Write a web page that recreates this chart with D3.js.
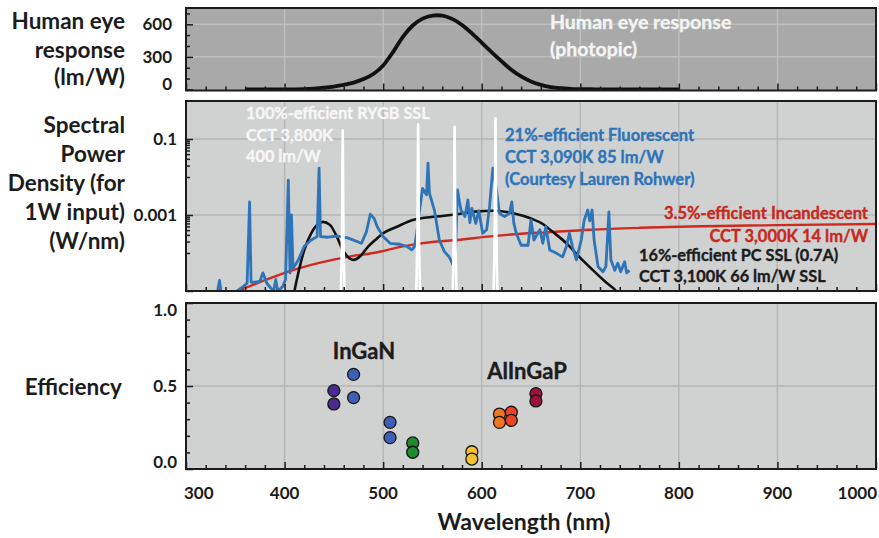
<!DOCTYPE html>
<html>
<head>
<meta charset="utf-8">
<script src="https://cdn.jsdelivr.net/npm/d3@7"></script>
<style>
  body { margin: 0; background: #ffffff; }
  svg { display: block; }
  text { font-family: Lato, "Open Sans", sans-serif; }
</style>
</head>
<body>
<svg id="chart" width="879" height="538"></svg>
<script>
// ---------- data ----------
// Photopic luminous efficacy (683 lm/W x V(lambda))
const eyeNm = [360,370,380,390,400,410,420,430,440,450,460,470,480,490,500,510,520,530,540,550,555,560,570,580,590,600,610,620,630,640,650,660,670,680,690,700,710,720,730,740,750,760,770,780,790,800];
const eyeLmW = [0.003,0.008,0.027,0.082,0.27,0.83,2.73,7.92,15.7,26.0,41.0,62.1,95.0,142,221,344,485,589,652,680,683,680,650,594,517,431,344,260,181,120,73.1,41.7,21.9,11.6,5.61,2.80,1.43,0.715,0.355,0.170,0.082,0.041,0.020,0.010,0.005,0.0025];

// Ideal RYGB solid-state source: four narrow lines (W/nm at line centre)
const rygbNm = [459, 535.5, 572.5, 614];
const rygbPeak = [0.17, 0.24, 0.21, 0.35];

// Phosphor-converted white LED spectrum (W/nm)
const pcNm = [407,410,420,427,434,439,446,453,459,466,470,476,485,492,500,514,530,554,575,593,613,633,650,662,672,686,699,713,726,737,742];
const pcSpd = [4e-6,1.0e-5,1.2e-4,3.3e-4,5.8e-4,6.6e-4,5.5e-4,2.7e-4,1.2e-4,7.2e-5,6.6e-5,7.9e-5,1.5e-4,2.2e-4,3.3e-4,4.9e-4,7.4e-4,9.1e-4,1.05e-3,1.23e-3,1.29e-3,1.10e-3,8.1e-4,5.8e-4,3.6e-4,1.8e-4,7.9e-5,3.5e-5,1.7e-5,9.5e-6,6e-6];

// Incandescent lamp spectrum (W/nm)
const incNm = [350,375,400,434,468,490,520,554,575,606,640,665,710,760,810,900,1000];
const incSpd = [9.5e-6,1.7e-5,3.0e-5,5.4e-5,8.3e-5,1.0e-4,1.5e-4,2.0e-4,2.2e-4,2.7e-4,3.2e-4,3.5e-4,4.1e-4,4.6e-4,5.0e-4,5.4e-4,5.8e-4];

// Fluorescent lamp spectrum (W/nm)
const fluorNm = [330,334,337,348,352,358,362,364.5,366,370,375,378,382,386,389,391,393,398,401,403.8,405.5,407,408.5,410,414,420,427,433,435,436.5,444,454,464,478,483,487,491,494,500,507,517,524,529,532,534,537,540,544,545.5,547,552,557,562,567,571,573,575.5,577,579,583,586,588,590,594,597,601,605,608,611.3,615,618,623,628,630.5,632.5,635,640,647,650,653,659,662,665,669,676,682,686,689,692,696,701,704,707.6,709.5,712,714,718,723,726,729,731,735,738,741,745,747,750];
const fluorSpd = [5e-6,1.9e-5,5e-6,8e-6,1.0e-5,1.3e-5,1.6e-5,2.2e-3,1.7e-5,1.7e-5,1.8e-5,3.0e-5,1.6e-5,1.2e-5,1.0e-5,2.0e-5,1.0e-5,1.3e-5,2.0e-5,8.3e-3,3.0e-5,1.0e-3,4.0e-5,4.5e-5,6.6e-5,1.5e-4,2.2e-4,2.7e-4,1.7e-2,2.7e-4,2.6e-4,2.8e-4,2.5e-4,1.8e-4,3.6e-4,1.05e-3,8.0e-4,4.9e-4,2.7e-4,1.8e-4,1.7e-4,1.5e-4,1.2e-4,1.5e-4,3.3e-4,1.35e-3,5.0e-3,3.4e-3,2.3e-2,3.7e-3,1.35e-3,2.2e-4,1.1e-4,7.9e-5,4.8e-5,5.4e-5,4.6e-3,2.5e-3,1.35e-3,9.1e-4,2.5e-3,6.3e-4,1.5e-3,6.0e-4,1.3e-3,3.3e-4,4.1e-4,1.7e-3,1.7e-2,4.6e-3,1.1e-3,9.1e-4,1.1e-3,2.2e-3,6.3e-4,3.3e-4,1.6e-4,1.6e-4,7.4e-4,2.2e-4,4.1e-4,1.8e-4,4.9e-4,1.2e-4,9.8e-5,7.9e-5,1.5e-4,3.3e-4,1.5e-4,6.6e-5,2.2e-4,7.4e-4,1.35e-3,7.0e-4,1.35e-3,2.2e-4,4.4e-5,3.2e-5,4.4e-5,1.2e-3,6.6e-5,3.5e-5,5.4e-5,3.2e-5,5.9e-5,3.0e-5,3.5e-5];

// LED wall-plug efficiency vs peak wavelength
const ledNm  = [450,450,470,470,507,507,530,530,590,590,618,618,630,630,655,655];
const ledEff = [0.472,0.392,0.570,0.430,0.281,0.189,0.157,0.101,0.104,0.060,0.331,0.281,0.342,0.293,0.454,0.410];
const ledColor = ["#4b2c8e","#4b2c8e","#3f5fb6","#3f5fb6","#3f5fb6","#3f5fb6","#1f8a2e","#1f8a2e","#f7c22e","#f7c22e","#f07524","#f07524","#e8452b","#e8452b","#9c1139","#9c1139"];

const xTicks = [300,400,500,600,700,800,900,1000];
const eyeTicks = [0,300,600];
const spdTicks = [1e-5,1e-3,1e-1];
const spdTickLabels = ["","0.001","0.1"];
const effTicks = [0,0.5,1];
const effTickLabels = ["0.0","0.5","1.0"];

// ---------- layout ----------
const svg = d3.select("#chart");
const X_LEFT = 186, X_RIGHT = 876;
const x = d3.scaleLinear().domain([300, 1000]).range([X_LEFT, X_RIGHT]);

const eyeP = {top: 8, bottom: 90.5, fill: "#a9a9a9", grid: "#bebebe"};
const spdP = {top: 101, bottom: 291, fill: "#d0d1d1", grid: "#b6b7b7"};
const effP = {top: 303, bottom: 469, fill: "#d0d1d1", grid: "#b6b7b7"};

const yEye = d3.scaleLinear().domain([-10, 750]).range([eyeP.bottom, eyeP.top]);
const ySpd = d3.scaleLog().domain([1e-5, 1]).range([spdP.bottom, spdP.top]);
const yEff = d3.scaleLinear().domain([0, 1]).range([effP.bottom, effP.top]);

const INK = "#1c1c1c";
const TITLE_SIZE = 22.5;

function panel(p, id, yScale, hGrid) {
  svg.append("rect").attr("x", X_LEFT).attr("y", p.top)
    .attr("width", X_RIGHT - X_LEFT).attr("height", p.bottom - p.top)
    .attr("fill", p.fill);
  const g = svg.append("g");
  g.selectAll(".vg").data(d3.range(400, 1000, 100)).join("line")
    .attr("x1", d => x(d)).attr("x2", d => x(d))
    .attr("y1", p.top).attr("y2", p.bottom)
    .attr("stroke", p.grid).attr("stroke-width", 1.5);
  g.selectAll(".hg").data(hGrid).join("line")
    .attr("x1", X_LEFT).attr("x2", X_RIGHT)
    .attr("y1", d => yScale(d)).attr("y2", d => yScale(d))
    .attr("stroke", p.grid).attr("stroke-width", 1.5);
  svg.append("clipPath").attr("id", id).append("rect")
    .attr("x", X_LEFT).attr("y", p.top)
    .attr("width", X_RIGHT - X_LEFT).attr("height", p.bottom - p.top);
  return svg.append("g").attr("clip-path", `url(#${id})`);
}

function frameAndTicks(p, yScale, yMinor, yMajor) {
  const minorX = d3.range(300, 1001, 20).filter(v => v % 100 !== 0);
  const ax1 = svg.append("g").attr("transform", `translate(0,${p.bottom})`)
    .call(d3.axisBottom(x).tickValues(minorX).tickSize(-4).tickFormat(""));
  const ax2 = svg.append("g").attr("transform", `translate(0,${p.bottom})`)
    .call(d3.axisBottom(x).tickValues(xTicks).tickSize(-7).tickFormat(""));
  const ay1 = svg.append("g").attr("transform", `translate(${X_LEFT},0)`)
    .call(d3.axisLeft(yScale).tickValues(yMinor).tickSize(-4).tickFormat(""));
  const ay2 = svg.append("g").attr("transform", `translate(${X_LEFT},0)`)
    .call(d3.axisLeft(yScale).tickValues(yMajor).tickSize(-7).tickFormat(""));
  [ax1, ax2, ay1, ay2].forEach(a => {
    a.select(".domain").remove();
    a.selectAll("line").attr("stroke", INK).attr("stroke-width", 1.5);
  });
  svg.append("rect").attr("x", X_LEFT).attr("y", p.top)
    .attr("width", X_RIGHT - X_LEFT).attr("height", p.bottom - p.top)
    .attr("fill", "none").attr("stroke", INK).attr("stroke-width", 2);
}

function yLabels(p, yScale, values, labels, rightX) {
  values.forEach((v, i) => {
    if (!labels[i]) return;
    const base = Math.max(p.top + 13, Math.min(p.bottom - 1, yScale(v) + 6));
    svg.append("text").attr("x", rightX).attr("y", base)
      .attr("text-anchor", "end").attr("font-size", 17).attr("font-weight", 700)
      .attr("fill", INK).text(labels[i]);
  });
}

function titleLines(lines, baselines, rightX) {
  lines.forEach((t, i) => {
    svg.append("text").attr("x", rightX).attr("y", baselines[i])
      .attr("text-anchor", "end").attr("font-size", TITLE_SIZE).attr("font-weight", 700)
      .attr("fill", INK).text(t);
  });
}

function note(lines, baselines, xPos, anchor, color, size) {
  lines.forEach((t, i) => {
    svg.append("text").attr("x", xPos).attr("y", baselines[i])
      .attr("text-anchor", anchor).attr("font-size", size).attr("font-weight", 700)
      .attr("fill", color).attr("stroke", color).attr("stroke-width", 0.35)
      .text(t);
  });
}

// ---------- top: human eye response ----------
const gEye = panel(eyeP, "clipEye", yEye, [300, 600]);
gEye.append("path")
  .datum(eyeNm.map((n, i) => [n, eyeLmW[i]]))
  .attr("fill", "none").attr("stroke", "#111").attr("stroke-width", 3.8)
  .attr("stroke-linejoin", "round")
  .attr("d", d3.line().x(d => x(d[0])).y(d => yEye(d[1])).curve(d3.curveMonotoneX));
note(["Human eye response", "(photopic)"], [29, 56], 550, "start", "#f4f4f4", 19.5);
frameAndTicks(eyeP, yEye, [100, 200, 400, 500, 700], eyeTicks);
yLabels(eyeP, yEye, eyeTicks, eyeTicks.map(String), 172);
titleLines(["Human eye", "response", "(lm/W)"], [29, 58, 85], 125);

// ---------- middle: spectral power density ----------
const gSpd = panel(spdP, "clipSpd", ySpd, [1e-3, 1e-1]);
const lineSpd = d3.line().x(d => x(d[0])).y(d => ySpd(d[1]));

gSpd.append("path")
  .datum(incNm.map((n, i) => [n, incSpd[i]]))
  .attr("fill", "none").attr("stroke", "#d02a1f").attr("stroke-width", 2.4)
  .attr("d", lineSpd.curve(d3.curveMonotoneX));
gSpd.append("path")
  .datum(pcNm.map((n, i) => [n, pcSpd[i]]))
  .attr("fill", "none").attr("stroke", "#111").attr("stroke-width", 2.6)
  .attr("d", lineSpd.curve(d3.curveMonotoneX));
gSpd.append("path")
  .datum(fluorNm.map((n, i) => [n, fluorSpd[i]]))
  .attr("fill", "none").attr("stroke", "#2e74b8").attr("stroke-width", 2.8)
  .attr("stroke-linejoin", "round")
  .attr("d", lineSpd.curve(d3.curveLinear));

// each RYGB emission line is drawn as a narrow peak rising from the floor
const floor = ySpd.domain()[0];
rygbNm.forEach((c, i) => {
  const pk = rygbPeak[i];
  const pts = [[c - 1.9, floor], [c - 0.8, pk * 1e-3], [c, pk], [c + 0.8, pk * 1e-3], [c + 1.9, floor]];
  gSpd.append("path").datum(pts)
    .attr("fill", "none").attr("stroke", "#ffffff").attr("stroke-width", 2.6)
    .attr("stroke-linejoin", "round")
    .attr("d", lineSpd.curve(d3.curveLinear));
});

const spdMinor = [];
[1e-4, 1e-2].forEach(b => { for (let k = 1; k <= 9; k++) spdMinor.push(b * k); });
frameAndTicks(spdP, ySpd, spdMinor, spdTicks);
yLabels(spdP, ySpd, spdTicks, spdTickLabels, 177);
titleLines(["Spectral", "Power", "Density (for", "1W input)", "(W/nm)"], [133, 162, 191, 220, 249], 125);

note(["100%-efficient RYGB SSL", "CCT 3,800K", "400 lm/W"], [118.5, 140.5, 162], 246, "start", "#f6f6f6", 16.3);
note(["21%-efficient Fluorescent", "CCT 3,090K 85 lm/W", "(Courtesy Lauren Rohwer)"], [140.5, 163, 185], 505, "start", "#2e74b8", 16.5);
note(["3.5%-efficient Incandescent", "CCT 3,000K 14 lm/W"], [218.5, 241.5], 868, "end", "#c8281d", 16.5);
note(["16%-efficient PC SSL (0.7A)", "CCT 3,100K 66 lm/W SSL"], [261, 282], 639, "start", INK, 16.3);

// ---------- bottom: LED efficiency ----------
const gEff = panel(effP, "clipEff", yEff, [0.5]);
gEff.selectAll("circle").data(ledNm.map((n, i) => ({n, e: ledEff[i], c: ledColor[i]})))
  .join("circle")
  .attr("cx", d => x(d.n)).attr("cy", d => yEff(d.e)).attr("r", 6)
  .attr("fill", d => d.c).attr("stroke", "#151515").attr("stroke-width", 1.3);
frameAndTicks(effP, yEff, d3.range(1, 10).map(k => k / 10).filter(v => v !== 0.5), effTicks);
yLabels(effP, yEff, effTicks, effTickLabels, 177);
titleLines(["Efficiency"], [395], 122);
note(["InGaN"], [359], 364, "middle", INK, 22);
note(["AlInGaP"], [379], 527, "middle", INK, 22);

// x tick labels, kept inside the plot's horizontal extent
xTicks.forEach(v => {
  const t = svg.append("text").attr("y", 499)
    .attr("text-anchor", "middle").attr("font-size", 17).attr("font-weight", 700)
    .attr("fill", INK).text(String(v));
  const w = t.node().getComputedTextLength();
  const cx = Math.max(X_LEFT - 2 + w / 2, Math.min(X_RIGHT + 1 - w / 2, x(v)));
  t.attr("x", cx);
});
svg.append("text").attr("x", 524).attr("y", 530)
  .attr("text-anchor", "middle").attr("font-size", 23).attr("font-weight", 700)
  .attr("fill", INK).text("Wavelength (nm)");
</script>
</body>
</html>
